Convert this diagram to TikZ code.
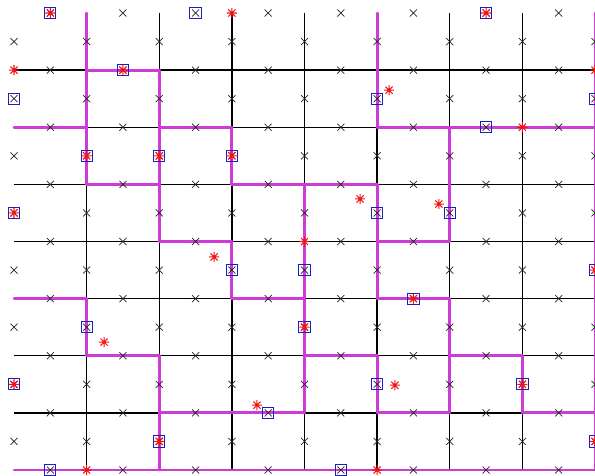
\documentclass[tikz,border=0pt]{standalone}
\usetikzlibrary{shapes.misc}
\usepackage{xcolor}
\definecolor{Bnd}{RGB}{205,60,215}
\definecolor{Sq}{RGB}{30,30,190}
\definecolor{Ast}{RGB}{240,20,20}

\begin{document}
\begin{tikzpicture}[x=1.0894cm,y=-0.8569cm,
  xm/.style={cross out,draw=black!85,line width=0.6pt,minimum size=5.4pt,inner sep=0pt},
  sq/.style={rectangle,draw=Sq,line width=0.85pt,minimum size=9.6pt,inner sep=0pt},
  ast/.style={circle,minimum size=8.8pt,inner sep=0pt,path picture={\draw[Ast,line width=0.9pt] (path picture bounding box.west) -- (path picture bounding box.east) (path picture bounding box.north) -- (path picture bounding box.south) (path picture bounding box.north west) -- (path picture bounding box.south east) (path picture bounding box.north east) -- (path picture bounding box.south west);}}]
\useasboundingbox (-0.3855,-0.4551) rectangle (16,16.175);
\clip (-0.3855,-0.4551) rectangle (16,16.175);
\foreach \j in {2,4,...,16} {\draw[black,line width=1.1pt] (0,\j) -- (16,\j);}
\foreach \i in {2,4,...,16} {\draw[black,line width=1.1pt] (\i,0) -- (\i,16);}
\foreach \j/\a/\b in {2/2/4,4/0/2,4/4/6,4/10/16,6/2/4,6/6/10,8/4/6,8/10/12,10/0/2,10/6/8,10/10/12,12/2/4,12/8/10,12/12/14,14/4/8,14/10/12,14/14/16,16/0/16} {\draw[Bnd,line width=2.5pt,line cap=round] (\a,\j) -- (\b,\j);}
\foreach \i/\a/\b in {2/0/6,2/10/12,4/2/8,4/12/16,6/4/6,6/8/10,8/6/14,10/0/4,10/6/10,10/12/14,12/4/8,12/10/14,14/12/14,16/0/16} {\draw[Bnd,line width=2.5pt,line cap=round] (\i,\a) -- (\i,\b);}
\foreach \i in {1,3,...,15} {\foreach \j in {0,2,...,16} {\node[xm] (x\i-\j) at (\i,\j) {};}}
\foreach \i in {0,2,...,16} {\foreach \j in {1,3,...,15} {\node[xm] (x\i-\j) at (\i,\j) {};}}
\foreach \i/\j [count=\k] in {1/0,5/0,13/0,3/2,0/3,10/3,16/3,13/4,2/5,4/5,6/5,0/7,10/7,12/7,6/9,8/9,16/9,11/10,2/11,8/11,0/13,10/13,14/13,7/14,4/15,16/15,1/16,9/16} {\node[sq] (s\k) at (\i,\j) {};}
\foreach \i/\j [count=\k] in {1/0,13/0,3/2,2/5,4/5,6/5,0/7,11/10,8/11,0/13,14/13,4/15,16/9,16/15,6/0,0/2,16/2,14/4,8/8,2/16,10/16,10.33/2.70,9.53/6.51,11.70/6.69,5.51/8.54,2.48/11.52,10.49/13.03,6.69/13.73} {\node[ast] (a\k) at (\i,\j) {};}
\end{tikzpicture}
\end{document}
